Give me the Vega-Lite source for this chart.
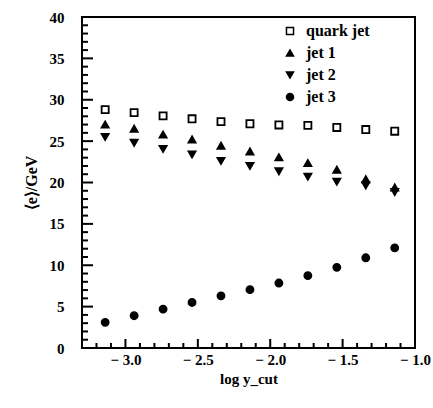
{
  "$schema": "https://vega.github.io/schema/vega-lite/v6.json",
  "width": 333,
  "height": 331,
  "autosize": "none",
  "padding": {"left": 82, "top": 17, "right": 18, "bottom": 60},
  "background": "white",
  "config": {
    "view": {"stroke": "black", "strokeWidth": 2},
    "font": "Liberation Serif",
    "axis": {"grid": false, "domain": false, "ticks": false, "labelFont": "Liberation Serif", "titleFont": "Liberation Serif", "labelColor": "black", "titleColor": "black"}
  },
  "layer": [
    {
      "data": {
        "values": [
          {"x": -3.14, "series": "quark jet", "e": 28.8},
          {"x": -2.94, "series": "quark jet", "e": 28.45},
          {"x": -2.74, "series": "quark jet", "e": 28.05},
          {"x": -2.54, "series": "quark jet", "e": 27.7},
          {"x": -2.34, "series": "quark jet", "e": 27.35},
          {"x": -2.14, "series": "quark jet", "e": 27.1},
          {"x": -1.94, "series": "quark jet", "e": 26.95},
          {"x": -1.74, "series": "quark jet", "e": 26.9},
          {"x": -1.54, "series": "quark jet", "e": 26.65},
          {"x": -1.34, "series": "quark jet", "e": 26.4},
          {"x": -1.14, "series": "quark jet", "e": 26.2},
          {"x": -3.14, "series": "jet 1", "e": 27.0},
          {"x": -2.94, "series": "jet 1", "e": 26.5},
          {"x": -2.74, "series": "jet 1", "e": 25.8},
          {"x": -2.54, "series": "jet 1", "e": 25.2},
          {"x": -2.34, "series": "jet 1", "e": 24.45},
          {"x": -2.14, "series": "jet 1", "e": 23.75},
          {"x": -1.94, "series": "jet 1", "e": 23.05},
          {"x": -1.74, "series": "jet 1", "e": 22.35},
          {"x": -1.54, "series": "jet 1", "e": 21.55},
          {"x": -1.34, "series": "jet 1", "e": 20.4},
          {"x": -1.14, "series": "jet 1", "e": 19.4},
          {"x": -3.14, "series": "jet 2", "e": 25.5},
          {"x": -2.94, "series": "jet 2", "e": 24.8},
          {"x": -2.74, "series": "jet 2", "e": 24.05},
          {"x": -2.54, "series": "jet 2", "e": 23.4},
          {"x": -2.34, "series": "jet 2", "e": 22.6},
          {"x": -2.14, "series": "jet 2", "e": 22.0},
          {"x": -1.94, "series": "jet 2", "e": 21.35},
          {"x": -1.74, "series": "jet 2", "e": 20.7},
          {"x": -1.54, "series": "jet 2", "e": 20.1},
          {"x": -1.34, "series": "jet 2", "e": 19.65},
          {"x": -1.14, "series": "jet 2", "e": 18.85},
          {"x": -3.14, "series": "jet 3", "e": 3.1},
          {"x": -2.94, "series": "jet 3", "e": 3.9},
          {"x": -2.74, "series": "jet 3", "e": 4.7},
          {"x": -2.54, "series": "jet 3", "e": 5.5},
          {"x": -2.34, "series": "jet 3", "e": 6.3},
          {"x": -2.14, "series": "jet 3", "e": 7.05},
          {"x": -1.94, "series": "jet 3", "e": 7.85},
          {"x": -1.74, "series": "jet 3", "e": 8.75},
          {"x": -1.54, "series": "jet 3", "e": 9.75},
          {"x": -1.34, "series": "jet 3", "e": 10.9},
          {"x": -1.14, "series": "jet 3", "e": 12.1}
        ]
      },
      "mark": {"type": "point", "filled": true, "opacity": 1, "stroke": "black", "strokeWidth": 1.8, "size": 50},
      "encoding": {
        "x": {"field": "x", "type": "quantitative", "scale": {"domain": [-3.3, -1.0], "nice": false, "zero": false},
          "axis": {"orient": "bottom", "values": [-3.0, -2.5, -2.0, -1.5, -1.0], "labelExpr": "'−  ' + format(-datum.value, '.1f')", "labelPadding": 4, "labelFontSize": 15, "labelFontWeight": "bold", "title": "log y_cut", "titleFontSize": 15, "titleFontWeight": "bold", "titlePadding": 4, "labelFlush": false}},
        "y": {"field": "e", "type": "quantitative", "scale": {"domain": [0, 40], "nice": false},
          "axis": {"orient": "left", "values": [0, 5, 10, 15, 20, 25, 30, 35, 40], "labelPadding": 18, "labelFontSize": 15, "labelFontWeight": "bold", "title": "⟨e⟩/GeV", "titleFontSize": 16, "titleFontWeight": "bold", "titlePadding": 10, "labelFlush": false}},
        "shape": {"field": "series", "type": "nominal",
          "scale": {"domain": ["quark jet", "jet 1", "jet 2", "jet 3"], "range": ["square", "triangle-up", "triangle-down", "circle"]},
          "legend": {"title": null, "orient": "none", "legendX": 200, "legendY": 6, "labelFontSize": 16, "labelFontWeight": "bold", "labelFont": "Liberation Serif", "labelColor": "black", "symbolSize": 50, "rowPadding": 6, "labelOffset": 8,
            "encode": {"symbols": {"update": {"stroke": {"value": "black"}, "strokeWidth": {"value": 1.8}, "opacity": {"value": 1}}}}}},
        "fill": {"field": "series", "type": "nominal",
          "scale": {"domain": ["quark jet", "jet 1", "jet 2", "jet 3"], "range": ["white", "black", "black", "black"]},
          "legend": {"title": null, "orient": "none", "legendX": 200, "legendY": 6, "labelFontSize": 16, "labelFontWeight": "bold", "labelFont": "Liberation Serif", "labelColor": "black", "symbolSize": 50, "rowPadding": 6, "labelOffset": 8,
            "encode": {"symbols": {"update": {"stroke": {"value": "black"}, "strokeWidth": {"value": 1.8}, "opacity": {"value": 1}}}}}}
      }
    },
    {
      "data": {"values": [{"v": 5}, {"v": 10}, {"v": 15}, {"v": 20}, {"v": 25}, {"v": 30}, {"v": 35}]},
      "mark": {"type": "tick", "orient": "horizontal", "size": 22, "thickness": 2, "color": "black", "opacity": 1, "clip": true},
      "encoding": {"x": {"datum": -3.3}, "y": {"field": "v", "type": "quantitative"}}
    },
    {
      "data": {"values": [{"v": 1}, {"v": 2}, {"v": 3}, {"v": 4}, {"v": 6}, {"v": 7}, {"v": 8}, {"v": 9}, {"v": 11}, {"v": 12}, {"v": 13}, {"v": 14}, {"v": 16}, {"v": 17}, {"v": 18}, {"v": 19}, {"v": 21}, {"v": 22}, {"v": 23}, {"v": 24}, {"v": 26}, {"v": 27}, {"v": 28}, {"v": 29}, {"v": 31}, {"v": 32}, {"v": 33}, {"v": 34}, {"v": 36}, {"v": 37}, {"v": 38}, {"v": 39}]},
      "mark": {"type": "tick", "orient": "horizontal", "size": 12, "thickness": 2, "color": "black", "opacity": 1, "clip": true},
      "encoding": {"x": {"datum": -3.3}, "y": {"field": "v", "type": "quantitative"}}
    },
    {
      "data": {"values": [{"v": -3.0}, {"v": -2.5}, {"v": -2.0}, {"v": -1.5}]},
      "mark": {"type": "tick", "orient": "vertical", "size": 18, "thickness": 2, "color": "black", "opacity": 1, "clip": true},
      "encoding": {"x": {"field": "v", "type": "quantitative"}, "y": {"datum": 0}}
    },
    {
      "data": {"values": [{"v": -3.2}, {"v": -3.1}, {"v": -2.9}, {"v": -2.8}, {"v": -2.7}, {"v": -2.6}, {"v": -2.4}, {"v": -2.3}, {"v": -2.2}, {"v": -2.1}, {"v": -1.9}, {"v": -1.8}, {"v": -1.7}, {"v": -1.6}, {"v": -1.4}, {"v": -1.3}, {"v": -1.2}, {"v": -1.1}]},
      "mark": {"type": "tick", "orient": "vertical", "size": 10, "thickness": 2, "color": "black", "opacity": 1, "clip": true},
      "encoding": {"x": {"field": "v", "type": "quantitative"}, "y": {"datum": 0}}
    }
  ]
}
